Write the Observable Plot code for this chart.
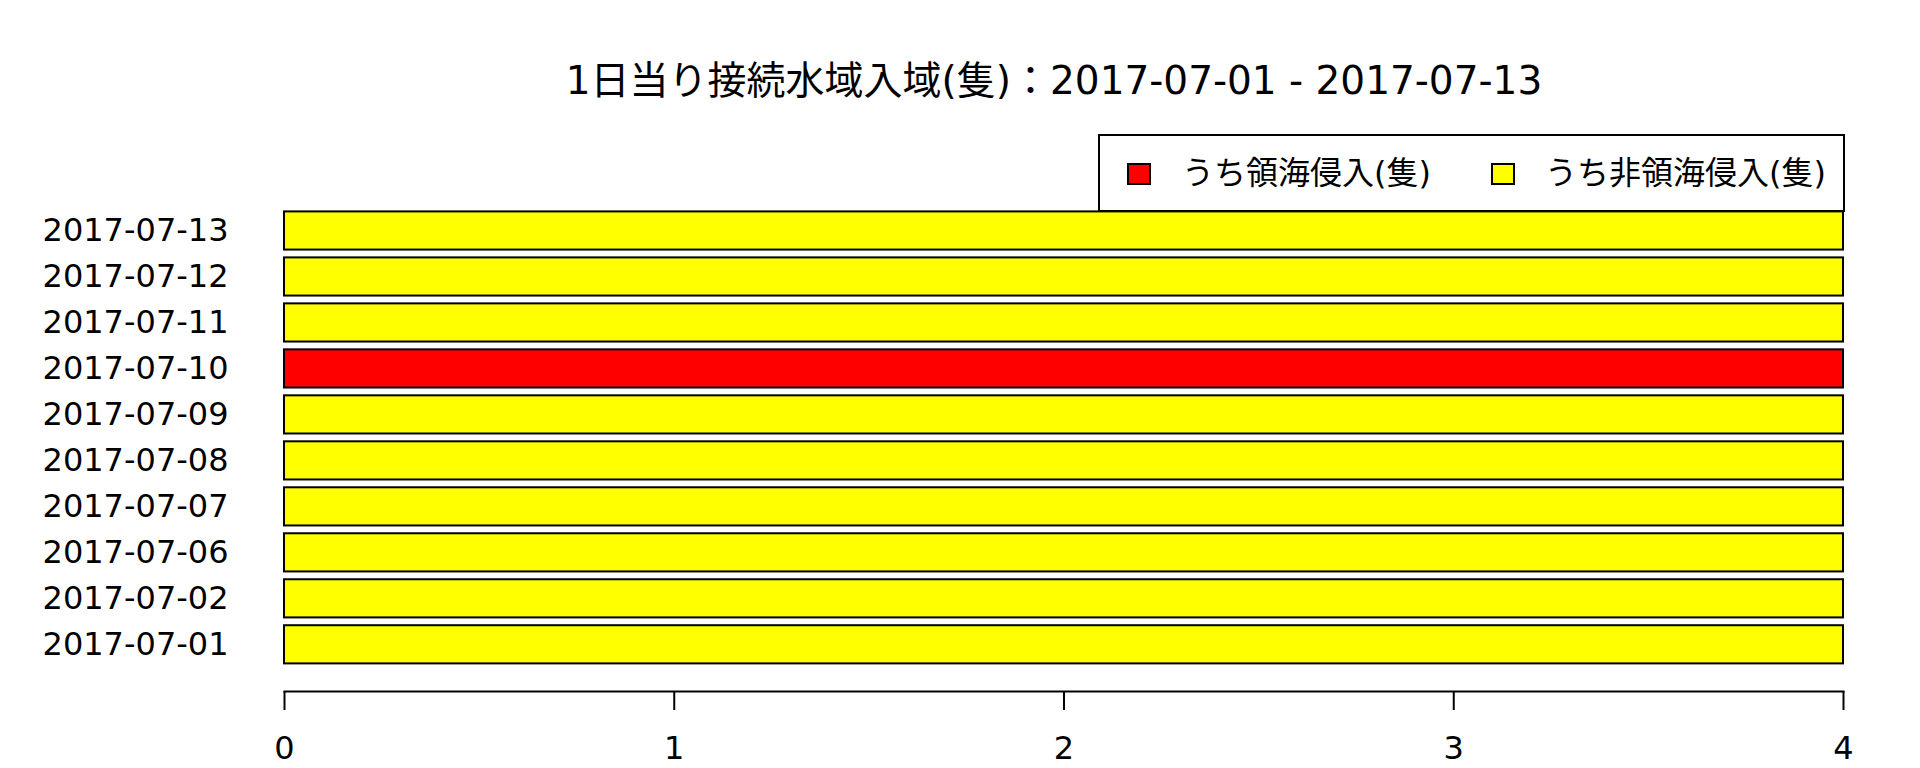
<!DOCTYPE html>
<html>
<head>
<meta charset="utf-8">
<script src="https://cdn.jsdelivr.net/npm/d3@7"></script>
<script src="https://cdn.jsdelivr.net/npm/@observablehq/plot@0.6"></script>
<style>
  html, body { margin: 0; padding: 0; background: #fff; }
  #wrap { position: relative; width: 1920px; height: 768px; font-family: "DejaVu Sans", "Noto Sans CJK JP", sans-serif; color: #000; }
  #title { position: absolute; left: 0; width: 2108px; top: 61px; text-align: center; font-size: 39px; line-height: 39px; white-space: nowrap; }
  #legend { position: absolute; left: 1098px; top: 134px; width: 743px; height: 74px; border: 2px solid #000; background: #fff; }
  .sw { position: absolute; width: 20px; height: 18px; border: 2px solid #000; top: 27px; }
  .lt { position: absolute; top: 21px; font-size: 32px; line-height: 32px; white-space: nowrap; }
  #chart { position: absolute; left: 0; top: 0; }
</style>
</head>
<body>
<div id="wrap">
  <div id="chart"></div>
  <div id="title"></div>
  <div id="legend"></div>
</div>
<script>
const dates = ["2017-07-01","2017-07-02","2017-07-06","2017-07-07","2017-07-08","2017-07-09","2017-07-10","2017-07-11","2017-07-12","2017-07-13"];
const seriesNames = ["うち領海侵入(隻)", "うち非領海侵入(隻)"];
const seriesColors = ["#FF0000", "#FFFF00"];
const territorial = [0,0,0,0,0,0,4,0,0,0];
const nonTerritorial = [4,4,4,4,4,4,0,4,4,4];
const xTicks = [0,1,2,3,4];
const titleText = "1日当り接続水域入域(隻)：2017-07-01 - 2017-07-13";

document.getElementById("title").textContent = titleText;

const rows = [];
dates.forEach((d, i) => {
  rows.push({date: d, series: seriesNames[0], value: territorial[i]});
  rows.push({date: d, series: seriesNames[1], value: nonTerritorial[i]});
});

const chart = Plot.plot({
  width: 1920,
  height: 768,
  marginLeft: 284,
  marginRight: 77,
  marginTop: 100,
  marginBottom: 77,
  style: {fontFamily: "'DejaVu Sans', 'Noto Sans CJK JP', sans-serif", fontSize: "32px", color: "#000", background: "transparent"},
  x: {domain: [0, 4], ticks: xTicks},
  y: {domain: dates.slice().reverse(), range: [207.5, 667.3], paddingInner: 0.17, paddingOuter: 0.085, round: false},
  color: {domain: seriesNames, range: seriesColors},
  marks: [
    Plot.barX(rows, Plot.stackX({
      filter: d => d.value > 0,
      x: "value", y: "date", fill: "series", order: seriesNames,
      stroke: "#000", strokeWidth: 2
    })),
    Plot.frame({anchor: "bottom", strokeWidth: 2}),
    Plot.axisX({ticks: xTicks, tickFormat: d3.format("d"), tickSize: 19, tickPadding: 26, strokeWidth: 2, label: null, fontSize: 32}),
    Plot.axisY({tickSize: 0, tickPadding: 56, label: null, fontSize: 32})
  ]
});
document.getElementById("chart").appendChild(chart);

const legend = document.getElementById("legend");
const swLeft = [27, 391];
const txLeft = [82, 445];
seriesNames.forEach((name, i) => {
  const sw = document.createElement("div");
  sw.className = "sw";
  sw.style.left = swLeft[i] + "px";
  sw.style.background = seriesColors[i];
  legend.appendChild(sw);
  const t = document.createElement("div");
  t.className = "lt";
  t.style.left = txLeft[i] + "px";
  t.textContent = name;
  legend.appendChild(t);
});
</script>
</body>
</html>
